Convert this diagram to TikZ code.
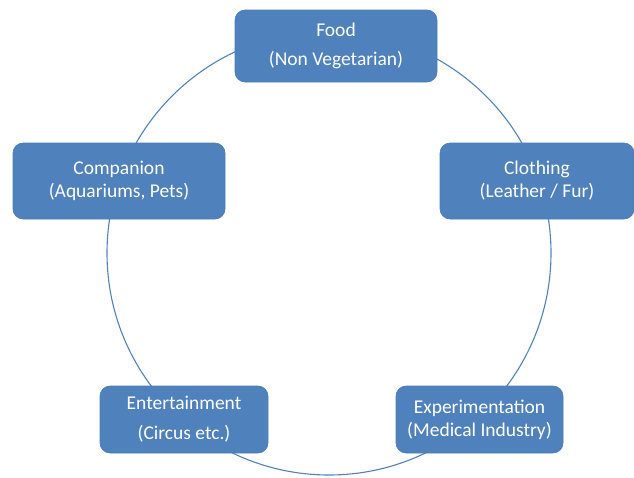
\documentclass[tikz,border=0pt]{standalone}
\usepackage{fontspec}
\setmainfont{Carlito}
\definecolor{boxblue}{HTML}{4F81BD}
\definecolor{boxedge}{HTML}{4A7DBA}
\begin{document}
\begin{tikzpicture}[x=1pt,y=-1pt,
  cat/.style={draw=boxedge, fill=boxblue, rounded corners=10pt, text=white,
    align=center, font=\fontsize{19.5}{23}\selectfont, inner sep=0pt, line width=0.6pt},
  ring/.style={draw=boxblue, line width=1.1pt}]
\useasboundingbox (0,0) rectangle (634,477);
\draw[ring] (329,253) circle[radius=222];
\node[cat, minimum width=202pt, minimum height=72pt] (food) at (336,46)
  {Food\\[6pt](Non Vegetarian)};
\node[cat, minimum width=212pt, minimum height=76pt] (comp) at (119,181)
  {Companion\\(Aquariums, Pets)};
\node[cat, minimum width=194pt, minimum height=76pt] (cloth) at (537,181)
  {Clothing\\(Leather / Fur)};
\node[cat, minimum width=168pt, minimum height=67pt] (ent) at (184,419.5)
  {Entertainment\\[7pt](Circus etc.)};
\node[cat, minimum width=167pt, minimum height=67pt] (exp) at (479.5,419.5)
  {Experimentation\\(Medical Industry)};
\end{tikzpicture}
\end{document}
